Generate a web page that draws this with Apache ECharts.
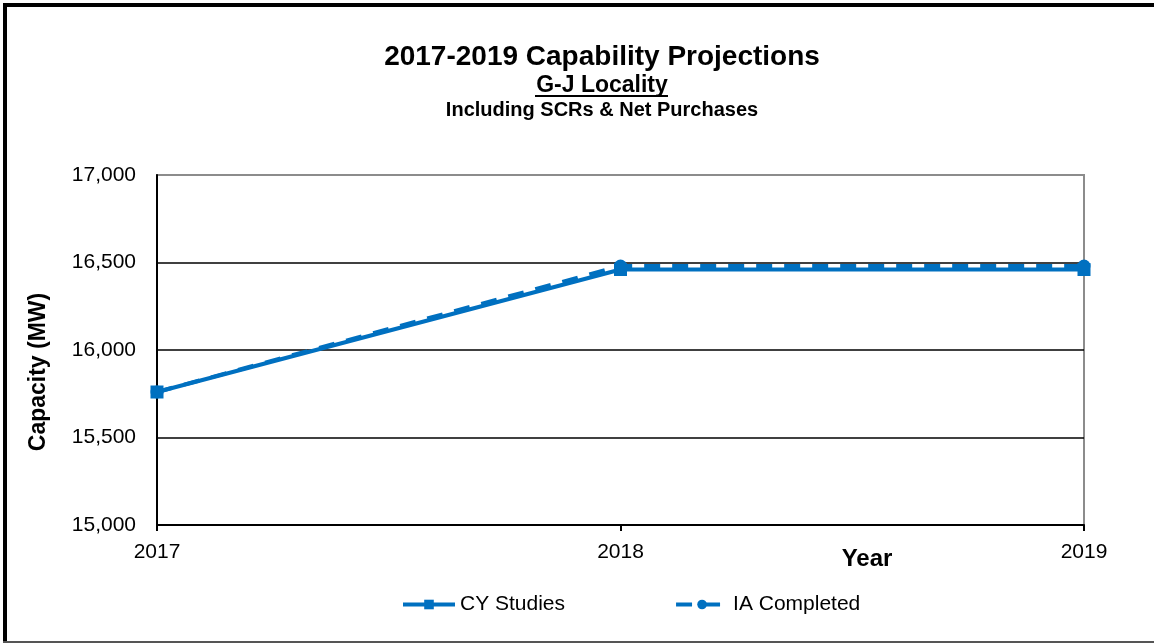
<!DOCTYPE html>
<html>
<head>
<meta charset="utf-8">
<script src="https://cdn.jsdelivr.net/npm/echarts@6/dist/echarts.min.js"></script>
<style>
  html, body { margin: 0; padding: 0; background: #fff; }
  #frame {
    position: absolute; left: 0; top: 0; width: 1154px; height: 643px;
    box-sizing: border-box; overflow: hidden;
  }
  #chart { position: absolute; left: 0; top: 0; width: 1154px; height: 643px; }
  .edge { position: absolute; }
</style>
</head>
<body>
<div id="frame">
  <div id="chart"></div>
  <div class="edge" style="left:3px;top:3px;width:1151px;height:4px;background:#000"></div>
  <div class="edge" style="left:3px;top:3px;width:4px;height:640px;background:#000"></div>
  <div class="edge" style="left:3px;top:641px;width:1151px;height:2px;background:#555"></div>
</div>
<script>
// Planning years on the horizontal axis
const years = ['2017', '2018', '2019'];
// Capacity in MW for each projection
const cyStudies = [15760, 16460, 16460];
const iaCompleted = [15760, 16480, 16480];
// Vertical scale
const yMin = 15000, yMax = 17000, yStep = 500;

const BLUE = '#0070C0';
const FONT = '"Liberation Sans", Arial, sans-serif';
const TITLE_X = 597;

const chart = echarts.init(document.getElementById('chart'));
chart.setOption({
  animation: false,
  textStyle: { fontFamily: FONT },
  title: [
    { text: '2017-2019 Capability Projections', left: TITLE_X, top: 38, textAlign: 'center',
      textStyle: { fontFamily: FONT, fontWeight: 'bold', fontSize: 28, color: '#000' } },
    { text: 'G-J Locality', left: TITLE_X, top: 69, textAlign: 'center',
      textStyle: { fontFamily: FONT, fontWeight: 'bold', fontSize: 23, color: '#000' } },
    { text: 'Including SCRs & Net Purchases', left: TITLE_X, top: 95, textAlign: 'center',
      textStyle: { fontFamily: FONT, fontWeight: 'bold', fontSize: 20, color: '#000' } }
  ],
  graphic: [
    // underline below the locality subtitle
    { type: 'line', shape: { x1: 535, y1: 96, x2: 668, y2: 96 },
      style: { stroke: '#000', lineWidth: 2 } }
  ],
  legend: {
    top: 589, left: 396,
    itemWidth: 52, itemHeight: 12, itemGap: 109,
    lineStyle: { width: 4 },
    textStyle: { fontFamily: FONT, fontSize: 21, color: '#000' },
    data: ['CY Studies', 'IA Completed']
  },
  grid: {
    left: 157, right: 70, top: 175, bottom: 118,
    show: true, borderColor: '#8c8c8c', borderWidth: 2, backgroundColor: '#fff'
  },
  xAxis: {
    type: 'category', data: years, boundaryGap: false,
    name: 'Year', nameLocation: 'end',
    nameTextStyle: { fontFamily: FONT, fontWeight: 'bold', fontSize: 24, color: '#000',
      align: 'center', verticalAlign: 'top', padding: [22, 0, 0, -464] },
    axisLine: { lineStyle: { color: '#000', width: 2 } },
    axisTick: { show: true, length: 6, lineStyle: { color: '#000', width: 2 } },
    axisLabel: { fontFamily: FONT, fontSize: 21, color: '#000', margin: 17 },
    splitLine: { show: false }
  },
  yAxis: {
    type: 'value', min: yMin, max: yMax, interval: yStep,
    name: 'Capacity (MW)', nameLocation: 'middle', nameGap: 107, nameRotate: 90,
    nameTextStyle: { fontFamily: FONT, fontWeight: 'bold', fontSize: 23, color: '#000',
      padding: [0, 44, 0, 0] },
    axisLine: { show: true, lineStyle: { color: '#000', width: 2 } },
    axisTick: { show: false },
    axisLabel: { fontFamily: FONT, fontSize: 21, color: '#000', margin: 21,
      formatter: v => v.toLocaleString('en-US') },
    splitLine: { show: true,
      lineStyle: { color: ['#000', '#000', '#000', '#000', '#8c8c8c'], width: 1.5 } }
  },
  series: [
    { name: 'CY Studies', type: 'line', data: cyStudies, z: 3,
      symbol: 'rect', symbolSize: 13, showSymbol: true,
      lineStyle: { color: BLUE, width: 4 }, itemStyle: { color: BLUE } },
    { name: 'IA Completed', type: 'line', data: iaCompleted, z: 4,
      symbol: 'circle', symbolSize: 13, showSymbol: true,
      lineStyle: { color: BLUE, width: 4, type: [16, 12] }, itemStyle: { color: BLUE } }
  ]
});
</script>
</body>
</html>
